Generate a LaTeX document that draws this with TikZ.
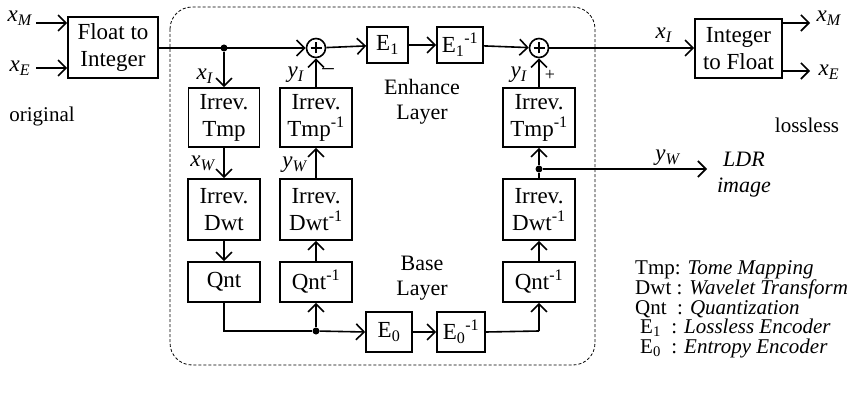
\documentclass[tikz,border=0pt]{standalone}
\usepackage{fontspec}
\setmainfont{Liberation Serif}
\usetikzlibrary{arrows.meta}
\newcommand{\vlab}[2]{\textit{#1}\textsubscript{\textit{#2}}}
\newcommand{\myinv}{\textsuperscript{-1}}
\begin{document}
\begin{tikzpicture}[x=1pt,y=-1pt,
  font=\fontsize{23}{27}\selectfont,
  blk/.style={draw, line width=1.6pt, inner sep=0pt, align=center},
  conn/.style={line width=1.6pt},
  arr/.style={conn, -{Straight Barb[length=8pt,width=16pt]}},
  sumc/.style={draw, circle, line width=1.6pt, minimum size=19pt, inner sep=0pt},
  lbl/.style={inner sep=0pt, font=\fontsize{23}{27}\selectfont},
  legend/.style={anchor=base west, inner sep=0pt, font=\fontsize{21}{23}\selectfont},
  dotc/.style={fill, circle, inner sep=0pt, minimum size=7pt}]
\useasboundingbox (0,0) rectangle (853,398);
% frame
\draw[line width=0.8pt, dash pattern=on 3pt off 2pt, rounded corners=22pt] (170,7) rectangle (595,365);
% blocks
\node[blk, minimum width=90pt, minimum height=61pt] (f2i) at (113,47.5) {Float to\\Integer};
\node[blk, minimum width=87pt, minimum height=59pt] (i2f) at (738.5,48.5) {Integer\\to Float};
\node[sumc] (s1) at (316,48) {};
\node[sumc] (s2) at (539,48) {};
\node[blk, minimum width=41pt, minimum height=36pt] (e1) at (387.5,45) {E\textsubscript{1}};
\node[blk, minimum width=46pt, minimum height=36pt] (e1i) at (460,45) {E\textsubscript{1}\myinv};
\node[blk, minimum width=71pt, minimum height=59pt] (tmp) at (224,117.5) {Irrev.\\Tmp};
\node[blk, minimum width=72pt, minimum height=59pt] (tmpi) at (316,117.5) {Irrev.\\Tmp\myinv};
\node[blk, minimum width=72pt, minimum height=59pt] (tmpr) at (539,117.5) {Irrev.\\Tmp\myinv};
\node[blk, minimum width=72pt, minimum height=61pt] (dwt) at (224,209.5) {Irrev.\\Dwt};
\node[blk, minimum width=72pt, minimum height=61pt] (dwti) at (316,209.5) {Irrev.\\Dwt\myinv};
\node[blk, minimum width=72pt, minimum height=61pt] (dwtr) at (539,209.5) {Irrev.\\Dwt\myinv};
\node[blk, minimum width=72pt, minimum height=40pt] (qnt) at (224,282) {Qnt};
\node[blk, minimum width=72pt, minimum height=40pt] (qnti) at (316,282) {Qnt\myinv};
\node[blk, minimum width=72pt, minimum height=40pt] (qntr) at (539,282) {Qnt\myinv};
\node[blk, minimum width=46pt, minimum height=40pt] (e0) at (389,332) {E\textsubscript{0}};
\node[blk, minimum width=48pt, minimum height=40pt] (e0i) at (461,332) {E\textsubscript{0}\myinv};
% plus signs in sums
\foreach \s in {s1,s2}{
  \draw[line width=1.6pt] ([xshift=-5.5pt]\s.center) -- ([xshift=5.5pt]\s.center);
  \draw[line width=1.6pt] ([yshift=-5.5pt]\s.center) -- ([yshift=5.5pt]\s.center);
}
% junction points
\node[dotc] (d1) at (224,48) {};
\node[dotc] (d2) at (316,331) {};
\node[dotc] (d3) at (539,169) {};
\coordinate (xmin) at (36,23);
\coordinate (xein) at (36,68);
\coordinate (xmout) at (810,23);
\coordinate (xeout) at (810,71);
\coordinate (ldr) at (707,169);
\coordinate (qb) at (224,331);
\coordinate (eb) at (539,331);
% connectors
\draw[arr] (xmin) -- (xmin -| f2i.west);
\draw[arr] (xein) -- (xein -| f2i.west);
\draw[arr] (f2i.east |- s1) -- (s1.west);
\draw[arr] (d1) -- (tmp.north);
\draw[arr] (tmp) -- (dwt);
\draw[arr] (dwt) -- (qnt);
\draw[conn] (qnt.south) -- (qb) -- (d2);
\draw[arr] (d2) -- (e0.west);
\draw[arr] (d2) -- (qnti.south);
\draw[arr] (qnti) -- (dwti);
\draw[arr] (dwti) -- (tmpi);
\draw[arr] (tmpi) -- (s1);
\draw[arr] (s1) -- (e1);
\draw[arr] (e1) -- (e1i);
\draw[arr] (e1i) -- (s2);
\draw[arr] (e0) -- (e0i);
\draw[conn] (e0i.east) -- (eb);
\draw[arr] (eb) -- (qntr.south);
\draw[arr] (qntr) -- (dwtr);
\draw[conn] (dwtr.north) -- (d3);
\draw[arr] (d3) -- (tmpr.south);
\draw[arr] (d3) -- (ldr);
\draw[arr] (tmpr) -- (s2);
\draw[arr] (s2) -- (s2 -| i2f.west);
\draw[arr] (xmout -| i2f.east) -- (xmout);
\draw[arr] (xeout -| i2f.east) -- (xeout);
% labels
\node[lbl] at (20,18) {\vlab{x}{M}};
\node[lbl] at (20,68) {\vlab{x}{E}};
\node[lbl] at (829,18) {\vlab{x}{M}};
\node[lbl] at (829,72) {\vlab{x}{E}};
\node[lbl] at (664,35) {\vlab{x}{I}};
\node[lbl] at (205,76) {\vlab{x}{I}};
\node[lbl] at (296,75) {\vlab{y}{I}};
\node[lbl] at (519,75) {\vlab{y}{I}};
\node[lbl] at (328,72) {\textendash};
\node[lbl, font=\fontsize{18}{20}\selectfont] at (550,75) {+};
\node[lbl] at (203,163) {\vlab{x}{W}};
\node[lbl] at (295,165) {\vlab{y}{W}};
\node[lbl] at (668,158) {\vlab{y}{W}};
\node[lbl, align=center, font=\fontsize{22}{26}\selectfont\itshape] at (744,175) {LDR\\image};
\node[lbl, align=center, font=\fontsize{22}{25}\selectfont] at (422,102) {Enhance\\Layer};
\node[lbl, align=center, font=\fontsize{22}{25}\selectfont] at (422,278) {Base\\Layer};
\node[lbl, anchor=base, font=\fontsize{21}{24}\selectfont] at (42,122) {original};
\node[lbl, anchor=base, font=\fontsize{21}{24}\selectfont] at (807,133) {lossless};
% legend
\node[legend] at (635,274) {Tmp: \textit{Tome Mapping}};
\node[legend] at (635,294) {Dwt : \textit{Wavelet Transform}};
\node[legend] at (635,314) {Qnt~ : \textit{Quantization}};
\node[legend] at (640,333) {E\textsubscript{1}~ : \textit{Lossless Encoder}};
\node[legend] at (640,353) {E\textsubscript{0}~ : \textit{Entropy Encoder}};
\end{tikzpicture}
\end{document}
